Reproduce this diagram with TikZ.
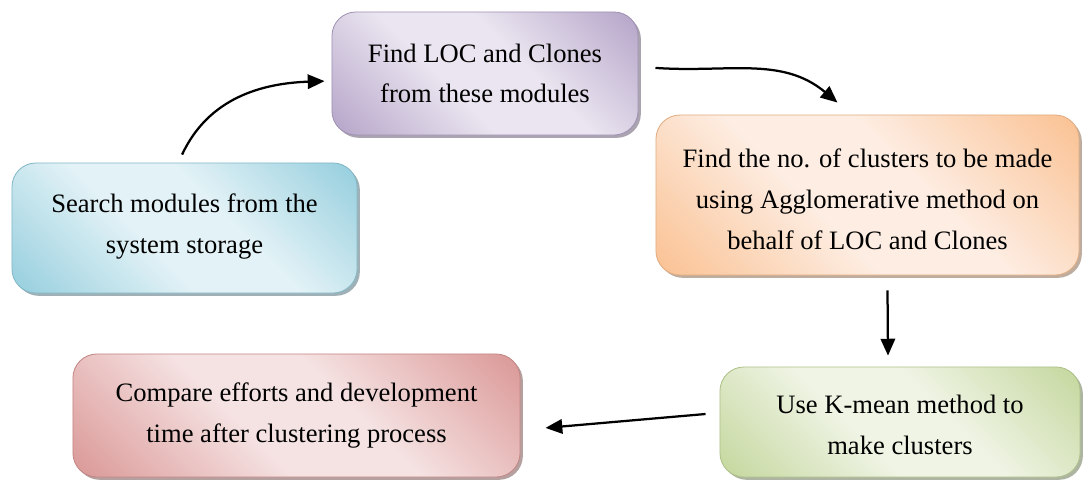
\documentclass[tikz,border=0pt]{standalone}
\usepackage{fontspec}
\setmainfont{Liberation Serif}
\usetikzlibrary{arrows.meta, shadows}
\definecolor{aquadark}{HTML}{93CDDD}
\definecolor{aqualight}{HTML}{E2F2F6}
\definecolor{lilacdark}{HTML}{B3A2C7}
\definecolor{lilaclight}{HTML}{EAE5F0}
\definecolor{peachdark}{HTML}{FAC090}
\definecolor{peachlight}{HTML}{FDEDE2}
\definecolor{olivedark}{HTML}{C3D69B}
\definecolor{olivelight}{HTML}{EFF4E4}
\definecolor{rosedark}{HTML}{D99694}
\definecolor{roselight}{HTML}{F5E2E2}
\colorlet{banddark}{gray}
\colorlet{bandlight}{white}
\pgfdeclareverticalshading[banddark,bandlight]{softband}{100bp}{%
  color(0bp)=(banddark); color(14bp)=(banddark); color(42bp)=(bandlight);
  color(58bp)=(bandlight); color(86bp)=(banddark); color(100bp)=(banddark)}
\tikzset{stepbox/.style 2 args = {draw = #1!90!black, line width = 0.6pt,
           rounded corners = 0.6cm, inner sep = 0pt, align = center,
           /utils/exec = {\colorlet{banddark}{#1}\colorlet{bandlight}{#2}},
           shading = softband, shading angle = -45,
           drop shadow = {shadow xshift = 2pt, shadow yshift = -2pt,
                          fill = #1!55!black, opacity = 0.55}},
         flow/.style = {-{Triangle[length = 4.2mm, width = 3.6mm]},
                        line width = 1.6pt},
         every node/.style = {font = \fontsize{18.9}{29}\selectfont}}
\begin{document}
\begin{tikzpicture}[x = 0.025cm, y = -0.025cm]
        \useasboundingbox (0,0) rectangle (1083,481);

        \node[stepbox = {aquadark}{aqualight},  minimum width = 8.625cm, minimum height = 3.25cm]
              (search)  at (184.5,228)  {Search modules from the\\system storage\\[-23pt]};
        \node[stepbox = {lilacdark}{lilaclight}, minimum width = 7.65cm, minimum height = 3.075cm]
              (loc)     at (485,73.5)   {Find LOC and Clones\\from these modules};
        \node[stepbox = {peachdark}{peachlight}, minimum width = 10.575cm, minimum height = 4cm]
              (agglo)   at (867.5,195)  {\\[-10pt]Find the no. of clusters to be made\\using Agglomerative method on\\behalf of LOC and Clones};
        \node[stepbox = {olivedark}{olivelight}, minimum width = 9cm, minimum height = 2.75cm]
              (kmean)   at (900,422)    {\\[-12pt]Use K-mean method to\\make clusters};
        \node[stepbox = {rosedark}{roselight},  minimum width = 11.175cm, minimum height = 3.075cm]
              (compare) at (296.5,415.5) {Compare efforts and development\\time after clustering process};

        \draw[flow] ([xshift = -0.06cm, yshift = 0.2cm]search.north)
                    to[out = 65, in = 182] ([xshift = -0.175cm, yshift = -0.19cm]loc.west);
        \draw[flow] ([xshift = 0.425cm, yshift = 0.14cm]loc.east)
                    to[out = -4, in = 140] ([xshift = -0.75cm, yshift = 0.3cm]agglo.north);
        \draw[flow] ([xshift = 0.5cm, yshift = -0.375cm]agglo.south)
                    -- ([xshift = -0.3cm, yshift = 0.275cm]kmean.north);
        \draw[flow] ([xshift = -0.35cm, yshift = 0.2cm]kmean.west)
                    -- ([xshift = 0.625cm, yshift = -0.31cm]compare.east);
\end{tikzpicture}
\end{document}
